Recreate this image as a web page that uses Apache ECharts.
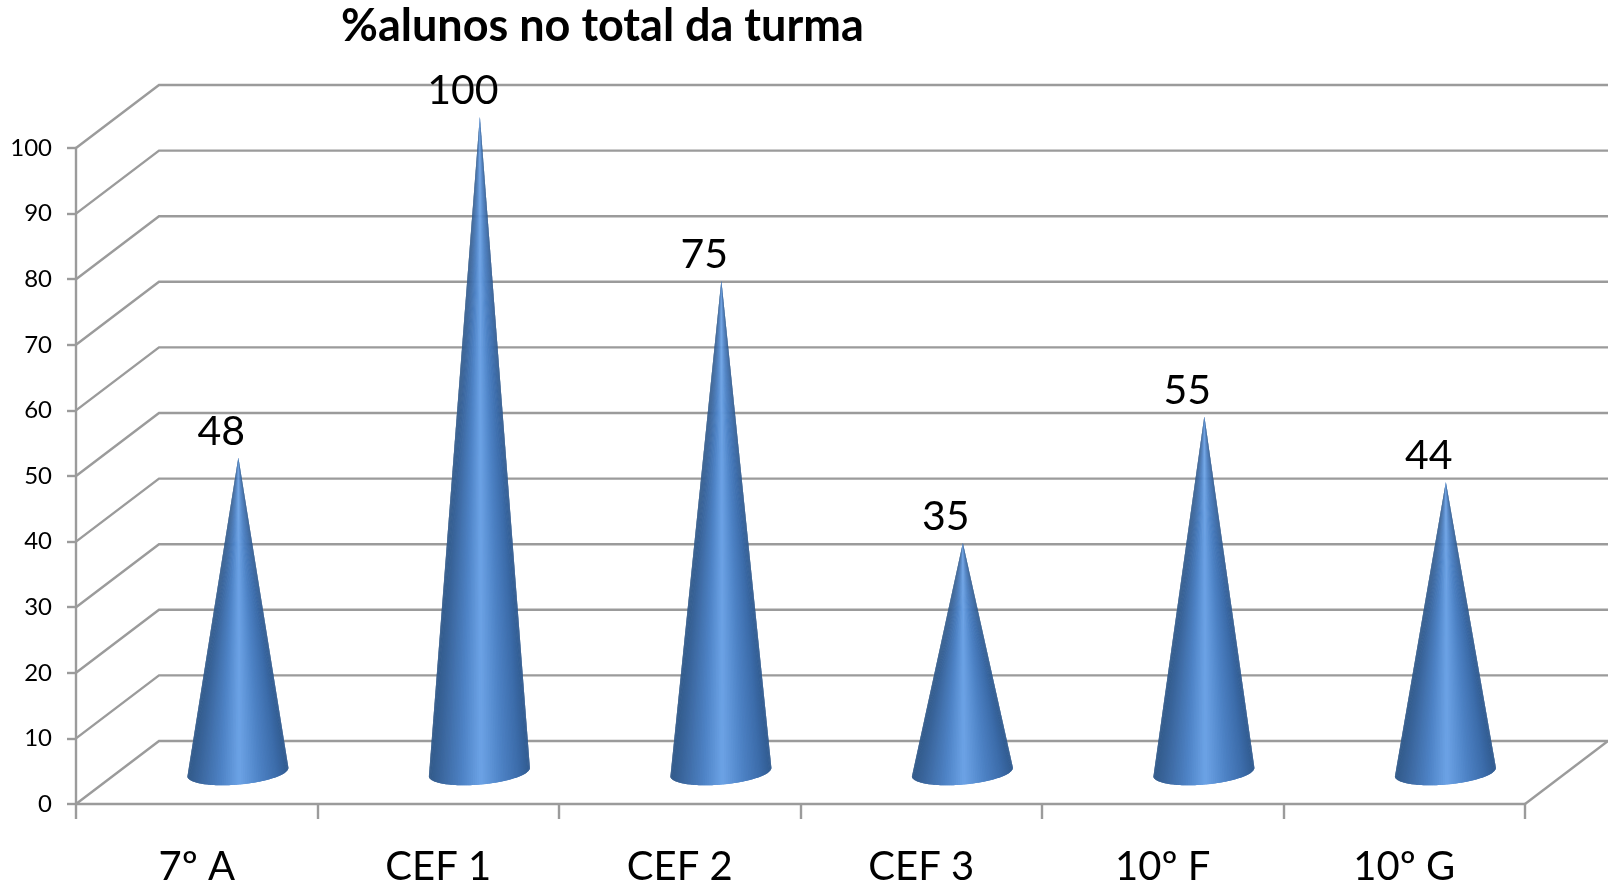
<!DOCTYPE html>
<html>
<head>
<meta charset="utf-8">
<style>html,body{margin:0;padding:0;background:#fff}#c{width:1608px;height:889px}</style>
<script src="https://cdn.jsdelivr.net/npm/echarts@6/dist/echarts.min.js"></script>
</head>
<body>
<div id="c"></div>
<script>
const titleText = '%alunos no total da turma';
const categories = ['7º A', 'CEF 1', 'CEF 2', 'CEF 3', '10º F', '10º G'];
const valueLabels = [48, 100, 75, 35, 55, 44];
const coneHeights = [48, 100, 75, 35, 54.3, 44.3];
const wallTicks = [0, 10, 20, 30, 40, 50, 60, 70, 80, 90, 100];

const GREY = '#9b9b9b';
const DEPTH_X = 83, DEPTH_Y = 63;
const shadeStops = [
  [0, [48, 90, 142]], [0.12, [60, 108, 170]], [0.3, [78, 131, 198]],
  [0.5, [108, 163, 230]], [0.68, [78, 131, 198]], [0.88, [60, 104, 160]], [1, [50, 90, 138]]
];
function shade(f) {
  for (let i = 1; i < shadeStops.length; i++) {
    const a = shadeStops[i - 1], b = shadeStops[i];
    if (f <= b[0]) {
      const k = (f - a[0]) / (b[0] - a[0]);
      const c = a[1].map((v, j) => Math.round(v + (b[1][j] - v) * k));
      return 'rgb(' + c.join(',') + ')';
    }
  }
  return 'rgb(50,90,138)';
}

function renderWall(params, api) {
  const p = api.coord([0, api.value(1)]);
  const left = p[0] - api.size([1, 0])[0] / 2;
  const cs = params.coordSys;
  const children = [{
    type: 'polyline',
    shape: { points: [[left, p[1]], [left + DEPTH_X, p[1] - DEPTH_Y], [cs.x + cs.width + DEPTH_X, p[1] - DEPTH_Y]] },
    style: { fill: null, stroke: GREY, lineWidth: 2.4 }
  }];
  if (api.value(1) === 0) {
    children.push({
      type: 'line',
      shape: { x1: cs.x + cs.width, y1: p[1], x2: cs.x + cs.width + DEPTH_X, y2: p[1] - DEPTH_Y },
      style: { stroke: GREY, lineWidth: 2.4 }
    });
  }
  return { type: 'group', children };
}

function renderCone(params, api) {
  const idx = api.value(0), h = api.value(1);
  const base = api.coord([idx, 0]);
  const tip = api.coord([idx, h]);
  const cx = base[0] + DEPTH_X / 2 - 0.4, cy = base[1] - DEPTH_Y / 2 - 0.5;
  const ax = cx + 0.5, ay = tip[1] - DEPTH_Y / 2;
  const ux = 50.5, uy = -4.5, vx = 1.5, vy = 12.5;
  const N = 80, children = [];
  const P = t => [cx + ux * Math.cos(t) + vx * Math.sin(t), cy + uy * Math.cos(t) + vy * Math.sin(t)];
  for (let i = 0; i < N; i++) {
    const t0 = Math.PI * (1 - i / N);
    const tMid = Math.PI * (1 - (i + 0.5) / N);
    const t2 = Math.PI * (1 - Math.min(N, i + 2) / N);
    const col = shade((1 - Math.cos(tMid)) / 2);
    children.push({
      type: 'polygon',
      shape: { points: [[ax, ay], P(t0), P(tMid), P(t2)] },
      style: { fill: col }
    });
  }
  children.push({
    type: 'text',
    style: {
      text: String(valueLabels[idx]), x: ax - 17, y: ay - 26, align: 'center', verticalAlign: 'middle',
      fill: '#000', font: '41px Lato'
    }
  });
  return { type: 'group', children };
}

const chart = echarts.init(document.getElementById('c'), null, { renderer: 'canvas' });
chart.setOption({
  animation: false,
  backgroundColor: '#fff',
  title: {
    text: titleText, left: 336, top: -1,
    textStyle: { fontFamily: 'Lato', fontWeight: 'bold', fontSize: 45, color: '#000' }
  },
  grid: { left: 76, top: 148, width: 1449, height: 656 },
  xAxis: {
    type: 'category', data: categories,
    axisLine: { lineStyle: { color: GREY, width: 2.4 } },
    axisTick: { show: true, length: 15, alignWithLabel: false, lineStyle: { color: GREY, width: 2.4 } },
    axisLabel: { color: '#000', fontFamily: 'Lato', fontSize: 40, margin: 43, interval: 0 },
    splitLine: { show: false }
  },
  yAxis: {
    type: 'value', min: 0, max: 100, interval: 10,
    axisLine: { show: true, lineStyle: { color: GREY, width: 2.4 } },
    axisTick: { show: true, length: 9, lineStyle: { color: GREY, width: 2.4 } },
    axisLabel: { color: '#000', fontFamily: 'Lato', fontSize: 24, margin: 24 },
    splitLine: { show: false }
  },
  series: [
    { type: 'custom', z: 1, clip: false, silent: true, renderItem: renderWall,
      data: wallTicks.map(t => [0, t]), encode: { x: 0, y: 1 } },
    { type: 'custom', z: 2, clip: false, silent: true, renderItem: renderCone,
      data: coneHeights.map((h, i) => [i, h]), encode: { x: 0, y: 1 } }
  ]
});
</script>
</body>
</html>
